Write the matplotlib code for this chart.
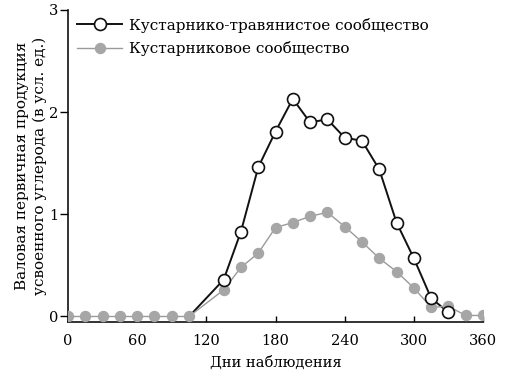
import matplotlib.pyplot as plt
from matplotlib.lines import Line2D

plt.rcParams['font.family'] = ['DejaVu Serif']

days_shrub = [0, 15, 30, 45, 60, 75, 90, 105, 135, 150, 165, 180, 195, 210,
              225, 240, 255, 270, 285, 300, 315, 330, 345, 360]
shrub = [0, 0, 0, 0, 0, 0, 0, 0, 0.26, 0.48, 0.62, 0.87, 0.92, 0.98,
         1.02, 0.88, 0.73, 0.57, 0.44, 0.28, 0.09, 0.10, 0.01, 0.01]

days_grass = [105, 135, 150, 165, 180, 195, 210, 225, 240, 255, 270, 285, 300, 315, 330]
grass = [0, 0.36, 0.83, 1.46, 1.81, 2.13, 1.90, 1.93, 1.75, 1.72, 1.44, 0.92, 0.57, 0.18, 0.04]

labels = ["Кустарнико-травянистое сообщество", "Кустарниковое сообщество"]
xticks = [0, 60, 120, 180, 240, 300, 360]
yticks = [0, 1, 2, 3]

fig = plt.figure(figsize=(5.05, 3.8), dpi=100)
ax = fig.add_axes([0.1347, 0.1534, 0.8217, 0.8203])

# black line under the grey markers, white markers on top
ax.plot(days_grass, grass, color="#111111", lw=1.4, zorder=2)
ax.plot(days_shrub, shrub, color="#9a9a9a", lw=1.0, marker="o", ms=7.2,
        mfc="#a6a6a6", mec="#a6a6a6", zorder=3)
ax.plot(days_grass[1:], grass[1:], ls="none", marker="o", ms=8.6,
        mfc="white", mec="#111111", mew=1.2, zorder=4)

ax.set_xlim(0, 360)
ax.set_ylim(-0.051, 3)
ax.set_xticks(xticks)
ax.set_yticks(yticks)
ax.tick_params(axis="x", direction="in", length=4, width=1, pad=8.5, labelsize=10.5)
ax.tick_params(axis="y", direction="out", length=5.5, width=1, pad=1.5, labelsize=10.5)
for s in ["top", "right"]:
    ax.spines[s].set_visible(False)
for s in ["left", "bottom"]:
    ax.spines[s].set_linewidth(1.2)
    ax.spines[s].set_color("#111111")

ax.set_xlabel("Дни наблюдения", fontsize=10.5, labelpad=6)
fig.text(0.061, 0.563, "Валовая первичная продукция\nусвоенного углерода (в усл. ед.)",
         rotation=90, ha="center", va="center", fontsize=11, linespacing=1.3)

handles = [
    Line2D([], [], color="#111111", lw=1.4, marker="o", ms=8.6, mfc="white",
           mec="#111111", mew=1.2),
    Line2D([], [], color="#9a9a9a", lw=1.0, marker="o", ms=7.2, mfc="#a6a6a6",
           mec="#a6a6a6"),
]
ax.legend(handles, labels, loc="upper left", bbox_to_anchor=(0.008, 0.995),
          frameon=False, fontsize=11, handlelength=2.9, handletextpad=0.5,
          labelspacing=0.55, borderaxespad=0)

fig.savefig("out.png", dpi=100)
